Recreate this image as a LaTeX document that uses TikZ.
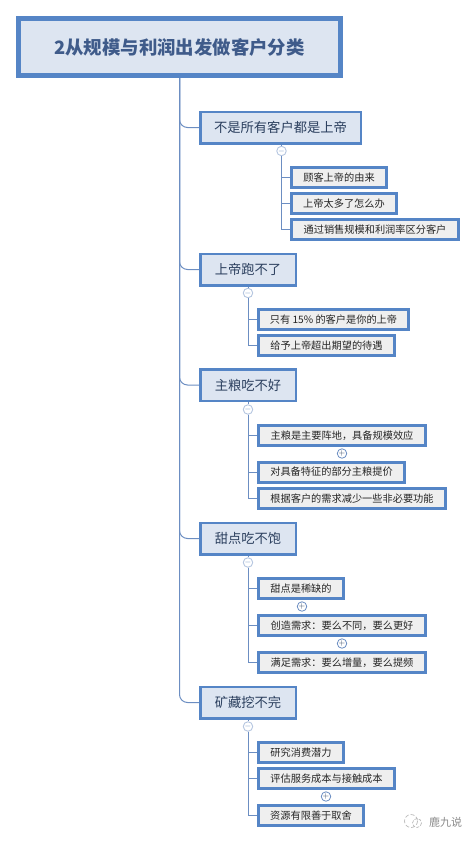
\documentclass[tikz,border=0pt]{standalone}
\usepackage{fontspec}
\setmainfont{Noto Sans CJK SC}
\definecolor{boxline}{HTML}{5585C6}
\definecolor{linkline}{HTML}{6C8EC2}
\definecolor{topicfill}{HTML}{DDE5F1}
\definecolor{subfill}{HTML}{EFEFEF}
\definecolor{rootink}{HTML}{3F5B8A}
\definecolor{topicink}{HTML}{2B3F5E}
\definecolor{markgray}{HTML}{8A8A8A}
\tikzset{
  rootbox/.style={draw=boxline,line width=5pt,fill=topicfill,text=rootink,inner sep=0pt,font=\fontsize{18.4}{20}\selectfont\bfseries},
  topicbox/.style={draw=boxline,line width=2.5pt,fill=topicfill,text=topicink,inner sep=0pt,minimum height=31.5pt,font=\fontsize{13.3}{15}\selectfont},
  subbox/.style={draw=boxline,line width=3pt,fill=subfill,text=black!85,inner sep=0pt,minimum height=20pt,font=\fontsize{10.2}{12}\selectfont},
  link/.style={draw=linkline,line width=1pt,rounded corners=8pt},
  sublink/.style={draw=linkline,line width=1pt},
  minusmark/.style={circle,draw=linkline!50,line width=0.9pt,fill=white,inner sep=0pt,minimum size=9.5pt,text=linkline,font=\fontsize{8}{8}\selectfont},
  plusmark/.style={circle,draw=linkline,line width=0.8pt,fill=white,inner sep=0pt,minimum size=9.5pt,text=topicink,font=\fontsize{8}{8}\selectfont}
}
\begin{document}
\begin{tikzpicture}[x=1pt,y=-1pt]
\useasboundingbox (0,0) rectangle (476,843);
% root
\node [rootbox,minimum width=322pt,minimum height=57pt] (root) at (179.5,47) {2从规模与利润出发做客户分类};
% topics
\node [topicbox,minimum width=160.5pt] (top1) at (280.5,127.5) {不是所有客户都是上帝};
\node [topicbox,minimum width=95.5pt] (top2) at (248,269.5) {上帝跑不了};
\node [topicbox,minimum width=95.5pt] (top3) at (248,385) {主粮吃不好};
\node [topicbox,minimum width=95.5pt] (top4) at (248,538.5) {甜点吃不饱};
\node [topicbox,minimum width=95.5pt] (top5) at (248,702.5) {矿藏挖不完};
% first group
\node [subbox,minimum width=95pt] (sub11) at (339,177.5) {顾客上帝的由来};
\node [subbox,minimum width=105pt] (sub12) at (344,203.5) {上帝太多了怎么办};
\node [subbox,minimum width=167pt] (sub13) at (375,229.5) {通过销售规模和利润率区分客户};
% second group
\node [subbox,minimum width=150pt] (sub21) at (333.5,319.5) {只有 15\% 的客户是你的上帝};
\node [subbox,minimum width=136pt] (sub22) at (326.5,345.5) {给予上帝超出期望的待遇};
% third group
\node [subbox,minimum width=167pt] (sub31) at (342,435.5) {主粮是主要阵地，具备规模效应};
\node [subbox,minimum width=146pt] (sub32) at (331.5,472) {对具备特征的部分主粮提价};
\node [subbox,minimum width=187pt] (sub33) at (352,498.5) {根据客户的需求减少一些非必要功能};
% fourth group
\node [subbox,minimum width=85pt] (sub41) at (301,588.5) {甜点是稀缺的};
\node [subbox,minimum width=167pt] (sub42) at (342,625.5) {创造需求：要么不同，要么更好};
\node [subbox,minimum width=167pt] (sub43) at (342,662.5) {满足需求：要么增量，要么提频};
% fifth group
\node [subbox,minimum width=85pt] (sub51) at (301,752.5) {研究消费潜力};
\node [subbox,minimum width=136pt] (sub52) at (326.5,778.5) {评估服务成本与接触成本};
\node [subbox,minimum width=105pt] (sub53) at (311,815.5) {资源有限善于取舍};
% collapse marks
\node [minusmark] (minus1) at (281.5,151) {$-$};
\node [minusmark] (minus2) at (248,293) {$-$};
\node [minusmark] (minus3) at (248,409.5) {$-$};
\node [minusmark] (minus4) at (248,562.5) {$-$};
\node [minusmark] (minus5) at (248,726.5) {$-$};
\node [plusmark] (plus31) at (342,453.5) {$+$};
\node [plusmark] (plus41) at (302,606.5) {$+$};
\node [plusmark] (plus42) at (342,643.5) {$+$};
\node [plusmark] (plus52) at (326,796.5) {$+$};
% trunk and branches
\draw [link] (root.south) |- (top1.west);
\draw [link] (root.south) |- (top2.west);
\draw [link] (root.south) |- (top3.west);
\draw [link] (root.south) |- (top4.west);
\draw [link] (root.south) |- (top5.west);
% stems
\draw [sublink] (top1.south -| minus1) -- (minus1);
\draw [sublink] (minus1.south) |- (sub11.west);
\draw [sublink] (minus1.south) |- (sub12.west);
\draw [sublink] (minus1.south) |- (sub13.west);
\draw [sublink] (top2.south) -- (minus2.north);
\draw [sublink] (minus2.south) |- (sub21.west);
\draw [sublink] (minus2.south) |- (sub22.west);
\draw [sublink] (top3.south) -- (minus3.north);
\draw [sublink] (minus3.south) |- (sub31.west);
\draw [sublink] (minus3.south) |- (sub32.west);
\draw [sublink] (minus3.south) |- (sub33.west);
\draw [sublink] (top4.south) -- (minus4.north);
\draw [sublink] (minus4.south) |- (sub41.west);
\draw [sublink] (minus4.south) |- (sub42.west);
\draw [sublink] (minus4.south) |- (sub43.west);
\draw [sublink] (top5.south) -- (minus5.north);
\draw [sublink] (minus5.south) |- (sub51.west);
\draw [sublink] (minus5.south) |- (sub52.west);
\draw [sublink] (minus5.south) |- (sub53.west);
% watermark
\draw [markgray!60,line width=0.7pt,dash pattern=on 4pt off 2pt] (411,821) circle (6.5);
\draw [markgray!60,line width=0.7pt,dash pattern=on 3pt off 1.5pt] (417,823) circle (4.5);
\node [text=markgray,inner sep=0pt,font=\fontsize{11}{12}\selectfont] (mark) at (445.5,822) {鹿九说};
\end{tikzpicture}
\end{document}
